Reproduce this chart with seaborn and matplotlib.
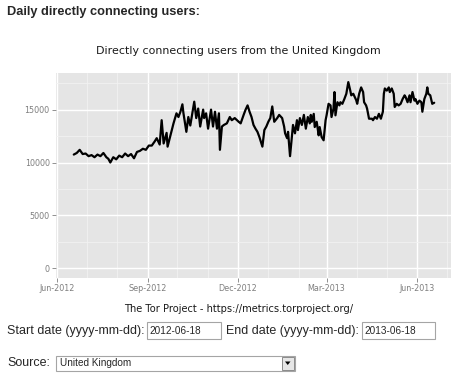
import pandas as pd
import matplotlib
matplotlib.use("Agg")
import matplotlib.pyplot as plt
import matplotlib.dates as mdates
from matplotlib.ticker import MultipleLocator
from matplotlib.patches import Rectangle, Polygon
import seaborn as sns

# daily directly connecting users
dates = [
    "2012-06-18", "2012-06-21", "2012-06-24", "2012-06-27", "2012-06-30", "2012-07-03",
    "2012-07-06", "2012-07-09", "2012-07-12", "2012-07-15", "2012-07-18", "2012-07-21",
    "2012-07-23", "2012-07-25", "2012-07-28", "2012-07-31", "2012-08-03", "2012-08-06",
    "2012-08-09", "2012-08-12", "2012-08-15", "2012-08-18", "2012-08-21", "2012-08-24",
    "2012-08-27", "2012-08-30", "2012-09-02", "2012-09-05", "2012-09-08", "2012-09-10",
    "2012-09-13", "2012-09-15", "2012-09-17", "2012-09-20", "2012-09-21", "2012-09-24",
    "2012-09-27", "2012-09-30", "2012-10-02", "2012-10-04", "2012-10-06", "2012-10-07",
    "2012-10-10", "2012-10-12", "2012-10-14", "2012-10-16", "2012-10-18", "2012-10-20",
    "2012-10-22", "2012-10-24", "2012-10-27", "2012-10-28", "2012-10-30", "2012-11-01",
    "2012-11-04", "2012-11-06", "2012-11-08", "2012-11-10", "2012-11-12", "2012-11-13",
    "2012-11-15", "2012-11-17", "2012-11-20", "2012-11-23", "2012-11-25", "2012-11-28",
    "2012-12-02", "2012-12-04", "2012-12-07", "2012-12-09", "2012-12-11", "2012-12-13",
    "2012-12-15", "2012-12-17", "2012-12-19", "2012-12-21", "2012-12-23", "2012-12-26",
    "2012-12-28", "2012-12-30", "2013-01-01", "2013-01-03", "2013-01-05", "2013-01-07",
    "2013-01-10", "2013-01-12", "2013-01-15", "2013-01-17", "2013-01-18", "2013-01-20",
    "2013-01-21", "2013-01-23", "2013-01-25", "2013-01-26", "2013-01-28", "2013-01-30",
    "2013-01-31", "2013-02-02", "2013-02-04", "2013-02-06", "2013-02-08", "2013-02-10",
    "2013-02-12", "2013-02-13", "2013-02-14", "2013-02-16", "2013-02-17", "2013-02-19",
    "2013-02-21", "2013-02-22", "2013-02-24", "2013-02-26", "2013-02-28", "2013-03-01",
    "2013-03-03", "2013-03-05", "2013-03-06", "2013-03-08", "2013-03-09", "2013-03-10",
    "2013-03-12", "2013-03-14", "2013-03-15", "2013-03-17", "2013-03-19", "2013-03-21",
    "2013-03-23", "2013-03-25", "2013-03-26", "2013-03-28", "2013-03-31", "2013-04-01",
    "2013-04-03", "2013-04-05", "2013-04-07", "2013-04-08", "2013-04-10", "2013-04-11",
    "2013-04-13", "2013-04-16", "2013-04-17", "2013-04-19", "2013-04-21", "2013-04-23",
    "2013-04-25", "2013-04-27", "2013-04-28", "2013-04-29", "2013-05-01", "2013-05-03",
    "2013-05-04", "2013-05-06", "2013-05-08", "2013-05-09", "2013-05-11", "2013-05-13",
    "2013-05-15", "2013-05-17", "2013-05-19", "2013-05-20", "2013-05-22", "2013-05-24",
    "2013-05-25", "2013-05-27", "2013-05-29", "2013-05-30", "2013-06-01", "2013-06-03",
    "2013-06-05", "2013-06-06", "2013-06-08", "2013-06-10", "2013-06-11", "2013-06-12",
    "2013-06-14", "2013-06-16", "2013-06-18",
]
users = [
    10750, 10900, 11200, 10800, 10850, 10600,
    10700, 10500, 10750, 10600, 10900, 10500,
    10350, 10000, 10500, 10300, 10650, 10500,
    10850, 10600, 10800, 10400, 11000, 11100,
    11300, 11200, 11600, 11600, 12000, 12300,
    11700, 14000, 11800, 12800, 11500, 12600,
    13700, 14650, 14300, 14800, 15500, 14700,
    12900, 14300, 13500, 14600, 15750, 14200,
    15100, 13400, 15000, 14200, 14650, 13200,
    15000, 13400, 14800, 13200, 14650, 11200,
    13400, 13550, 13700, 14300, 14000, 14200,
    13850, 13700, 14500, 15000, 15400, 14800,
    14300, 13550, 13200, 12900, 12400, 11500,
    13070, 13400, 13850, 14200, 15300, 13850,
    14200, 14500, 14200, 13400, 12760, 12300,
    12900, 10600, 12600, 13550, 12760, 14000,
    13070, 14200, 13550, 14500, 13200, 14300,
    13700, 14500, 13850, 14600, 13350, 13850,
    12570, 13350, 12400, 12100, 14000, 14460,
    15550, 15400, 14300, 15100, 16660, 14460,
    15700, 15400, 15700, 15550, 16000, 16500,
    17600, 16800, 16350, 16500, 15900, 15550,
    16500, 17100, 16660, 15700, 15400, 15100,
    14140, 14140, 14000, 14300, 14140, 14600,
    14140, 14800, 16500, 17000, 16800, 17100,
    16660, 17000, 16500, 15250, 15550, 15400,
    15550, 16000, 16350, 16200, 15700, 16350,
    15700, 16660, 15850, 16000, 15550, 15850,
    15700, 14800, 16000, 16500, 17100, 16500,
    16350, 15550, 15650,
]
y_ticks = [0, 5000, 10000, 15000]

header = "Daily directly connecting users:"
title = "Directly connecting users from the United Kingdom"
caption = "The Tor Project - https://metrics.torproject.org/"
start_date = "2012-06-18"
end_date = "2013-06-18"
source = "United Kingdom"

W, H = 463, 379

sns.set_theme(style="darkgrid", rc={
    "axes.facecolor": "#E5E5E5",
    "grid.color": "white",
    "figure.facecolor": "white",
})
plt.rcParams["font.family"] = ["DejaVu Sans"]

df = pd.DataFrame({"date": pd.to_datetime(dates), "users": users})

fig = plt.figure(figsize=(W / 100, H / 100), dpi=100)
ax = fig.add_axes([56 / W, 1 - 277.7 / H, (451 - 56) / W, (277.7 - 72.7) / H])

sns.lineplot(data=df, x="date", y="users", color="black", linewidth=1.6, ax=ax)

ax.set_xlim(pd.Timestamp("2012-05-31"), pd.Timestamp("2013-07-05"))
ax.set_ylim(-890, 18490)
ax.set_xlabel("")
ax.set_ylabel("")

ax.xaxis.set_major_locator(mdates.MonthLocator(bymonth=[3, 6, 9, 12]))
ax.xaxis.set_major_formatter(mdates.DateFormatter("%b-%Y"))
ax.xaxis.set_minor_locator(mdates.MonthLocator())
ax.set_yticks(y_ticks)
ax.yaxis.set_minor_locator(MultipleLocator(2500))

ax.grid(which="major", color="white", linewidth=1.0)
ax.grid(which="minor", color="#F2F2F2", linewidth=0.6)
ax.tick_params(which="major", length=3, width=0.6, color="#7f7f7f",
               labelsize=5.8, labelcolor="#7f7f7f", pad=1.5)
ax.tick_params(which="minor", length=0)
ax.tick_params(axis="x", bottom=True)
ax.tick_params(axis="y", left=True)
for s in ax.spines.values():
    s.set_visible(False)


def fx(x):
    return x / W


def fy(y):
    return 1 - y / H


html = ["Liberation Sans", "DejaVu Sans"]

fig.text(fx(7), fy(11.5), header, fontsize=9.2, fontweight="bold",
         family=html, va="center", ha="left")
fig.text(fx(238.5), fy(50.5), title, fontsize=7.9, va="center", ha="center",
         color="#1a1a1a")
fig.text(fx(238.5), fy(308.5), caption, fontsize=7.1, va="center", ha="center",
         color="#1a1a1a")

# form row: start / end date
fig.text(fx(7), fy(331), "Start date (yyyy-mm-dd):", fontsize=9.0, family=html,
         va="center", ha="left")
fig.text(fx(226.5), fy(331), "End date (yyyy-mm-dd):", fontsize=9.0, family=html,
         va="center", ha="left")
for x0, x1, txt in [(147, 220.5, start_date), (361.5, 435, end_date)]:
    fig.patches.append(Rectangle((fx(x0), fy(339.3)), fx(x1 - x0), (339.3 - 322.3) / H,
                                 transform=fig.transFigure, facecolor="white",
                                 edgecolor="#a5a5a5", linewidth=0.8))
    fig.text(fx(x0 + 2.5), fy(331), txt, fontsize=7.2, family=html,
             va="center", ha="left")

# source select box
fig.text(fx(7), fy(363), "Source:", fontsize=9.0, family=html, va="center", ha="left")
fig.patches.append(Rectangle((fx(56), fy(371)), fx(295 - 56), (371 - 355.7) / H,
                             transform=fig.transFigure, facecolor="white",
                             edgecolor="#a5a5a5", linewidth=0.8))
fig.text(fx(60), fy(363.5), source, fontsize=7.2, family=html, va="center", ha="left")
fig.patches.append(Rectangle((fx(281.5), fy(369.5)), fx(12), 12.5 / H,
                             transform=fig.transFigure, facecolor="#e6e6e6",
                             edgecolor="#8a8a8a", linewidth=0.7))
fig.patches.append(Polygon([(fx(285), fy(361.5)), (fx(290.5), fy(361.5)), (fx(287.75), fy(365))],
                           closed=True, transform=fig.transFigure, facecolor="black",
                           edgecolor="none"))

fig.savefig("out.png", dpi=100, facecolor="white")
